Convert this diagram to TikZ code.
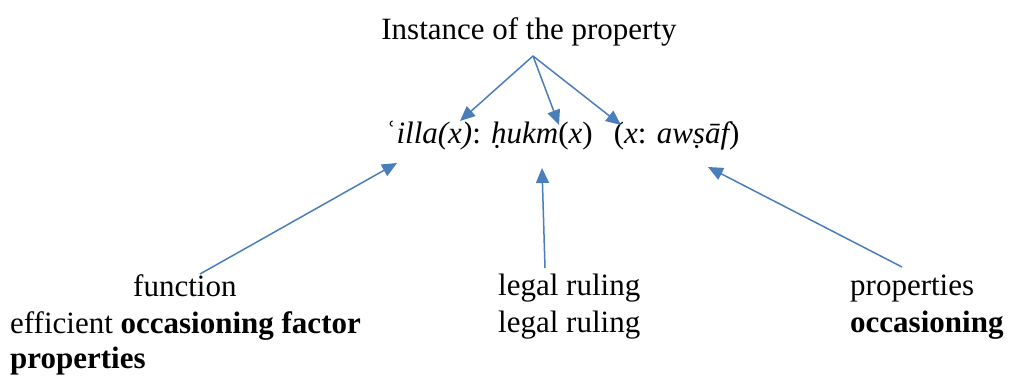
\documentclass[tikz,border=0pt]{standalone}
\usepackage{fontspec}
\setmainfont{Liberation Serif}
\usetikzlibrary{arrows.meta}
\definecolor{arrowblue}{RGB}{74,126,187}
\tikzset{
  lbl/.style={anchor=base west, inner sep=0pt, font=\fontsize{31}{37}\selectfont},
  conn/.style={draw=arrowblue, line width=1.5pt, -{Triangle[length=15pt,width=13pt]}, fill=arrowblue},
}
\begin{document}
\begin{tikzpicture}[x=1pt,y=-1pt]
\useasboundingbox (0,0) rectangle (1025,376);
\node[lbl, anchor=base] (top) at (529,39) {Instance of the property};
\node[lbl] (formula) at (386,143) {ʿ{\itshape illa(x)}: {\itshape ḥukm}({\itshape x})\hspace{21pt}({\itshape x}: {\itshape awṣāf})};
\node[lbl] (func) at (133,296) {function};
\node[lbl] (eff) at (10,333) {efficient \textbf{occasioning factor}};
\node[lbl] (prop) at (10,368) {\textbf{properties}};
\node[lbl] (lr1) at (498,295) {legal ruling};
\node[lbl] (lr2) at (498,332) {legal ruling};
\node[lbl] (pr) at (850,295) {properties};
\node[lbl] (occ) at (850,332) {\textbf{occasioning}};
% connector endpoints
\coordinate (src) at (533,56);
\coordinate (t1) at (460,121);
\coordinate (t2) at (559,125);
\coordinate (t3) at (621,125);
\coordinate (fs) at (200,274);
\coordinate (ft) at (397,163);
\coordinate (ls) at (545,268);
\coordinate (lt) at (542,168);
\coordinate (ps) at (902,267);
\coordinate (pt) at (708,167);
\draw[conn] (src) -- (t1);
\draw[conn] (src) -- (t2);
\draw[conn] (src) -- (t3);
\draw[conn] (fs) -- (ft);
\draw[conn] (ls) -- (lt);
\draw[conn] (ps) -- (pt);
\end{tikzpicture}
\end{document}
